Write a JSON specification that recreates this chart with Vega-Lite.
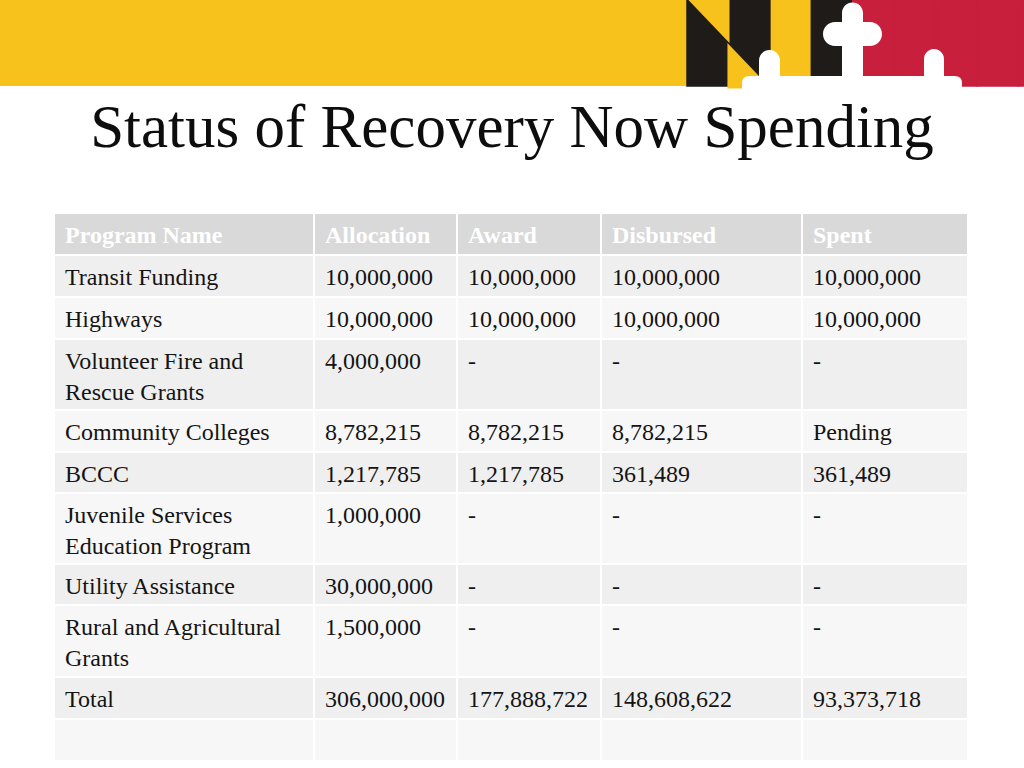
{
  "$schema": "https://vega.github.io/schema/vega-lite/v6.json",
  "width": 1024,
  "height": 768,
  "autosize": "none",
  "padding": 0,
  "background": "#ffffff",
  "config": {"view": {"stroke": null}},
  "datasets": {
    "table": [
      {"program": "Program Name", "allocation": "Allocation", "award": "Award", "disbursed": "Disbursed", "spent": "Spent"},
      {"program": "Transit Funding", "allocation": "10,000,000", "award": "10,000,000", "disbursed": "10,000,000", "spent": "10,000,000"},
      {"program": "Highways", "allocation": "10,000,000", "award": "10,000,000", "disbursed": "10,000,000", "spent": "10,000,000"},
      {"program": "Volunteer Fire and\nRescue Grants", "allocation": "4,000,000", "award": "-", "disbursed": "-", "spent": "-"},
      {"program": "Community Colleges", "allocation": "8,782,215", "award": "8,782,215", "disbursed": "8,782,215", "spent": "Pending"},
      {"program": "BCCC", "allocation": "1,217,785", "award": "1,217,785", "disbursed": "361,489", "spent": "361,489"},
      {"program": "Juvenile Services\nEducation Program", "allocation": "1,000,000", "award": "-", "disbursed": "-", "spent": "-"},
      {"program": "Utility Assistance", "allocation": "30,000,000", "award": "-", "disbursed": "-", "spent": "-"},
      {"program": "Rural and Agricultural\nGrants", "allocation": "1,500,000", "award": "-", "disbursed": "-", "spent": "-"},
      {"program": "Total", "allocation": "306,000,000", "award": "177,888,722", "disbursed": "148,608,622", "spent": "93,373,718"},
      {"program": "", "allocation": "", "award": "", "disbursed": "", "spent": ""}
    ],
    "calvert": [
      {"bar": "b1"}, {"bar": "b2"}, {"bar": "b4"},
      {"bar": "c1"}, {"bar": "c2"}, {"bar": "c3"}, {"bar": "c4"}, {"bar": "c5"}
    ],
    "bend": [
      {"bar": "b1", "piece": "upper"},
      {"bar": "b2", "piece": "lower"}
    ],
    "crossland": [
      {"bar": "c1", "piece": "cross bottony"}
    ]
  },
  "layer": [
    {
      "data": {"values": [{"piece": "gold field"}]},
      "mark": {"type": "rect", "fill": "#f8c21d"},
      "encoding": {
        "y": {"datum": "flag", "type": "nominal", "scale": {"type": "band", "domain": ["flag"], "range": [0, 86], "paddingInner": 0, "paddingOuter": 0}, "axis": null}
      }
    },
    {
      "layer": [
        {
          "data": {"name": "calvert"},
          "mark": {"type": "rect", "strokeWidth": 1.5},
          "encoding": {
            "x": {"field": "bar", "type": "nominal", "scale": {"type": "band", "domain": ["b1", "b2", "b3", "b4", "c1", "c2", "c3", "c4", "c5"], "range": [687, 1060], "paddingInner": 0, "paddingOuter": 0}, "axis": null},
            "y": {"datum": "flag", "type": "nominal", "scale": {"type": "band", "domain": ["flag"], "range": [0, 86], "paddingInner": 0, "paddingOuter": 0}, "axis": null},
            "fill": {"field": "bar", "type": "nominal", "scale": {"domain": ["b1", "b2", "b4", "c1", "c2", "c3", "c4", "c5"], "range": ["#1e1b18", "#1e1b18", "#1e1b18", "#c71f3c", "#c71f3c", "#c71f3c", "#c71f3c", "#c71f3c"]}, "legend": null},
            "stroke": {"field": "bar", "type": "nominal", "scale": {"domain": ["b1", "b2", "b4", "c1", "c2", "c3", "c4", "c5"], "range": ["#1e1b18", "#1e1b18", "#1e1b18", "#c71f3c", "#c71f3c", "#c71f3c", "#c71f3c", "#c71f3c"]}, "legend": null}
          }
        },
        {
          "data": {"name": "bend"},
          "mark": {"type": "point", "filled": true, "fill": "#f8c21d", "size": 1717, "opacity": 1, "strokeWidth": 0},
          "encoding": {
            "x": {"field": "bar", "type": "nominal", "scale": {"type": "band", "domain": ["b1", "b2", "b3", "b4", "c1", "c2", "c3", "c4", "c5"], "range": [687, 1060], "paddingInner": 0, "paddingOuter": 0}, "axis": null},
            "y": {"datum": "flag", "type": "nominal", "scale": {"type": "band", "domain": ["flag"], "range": [0, 86], "paddingInner": 0, "paddingOuter": 0}, "axis": null},
            "shape": {"field": "piece", "type": "nominal", "scale": {"domain": ["upper", "lower"], "range": ["M -1.05 -2.2 L 1.05 -2.2 L 1.05 0 Z", "M -1.05 0 L -1.05 2.2 L 1.05 2.2 Z"]}, "legend": null}
          }
        },
        {
          "data": {"name": "crossland"},
          "mark": {"type": "point", "filled": true, "fill": "#ffffff", "size": 4, "opacity": 1, "strokeWidth": 0},
          "encoding": {
            "x": {"field": "bar", "type": "nominal", "scale": {"type": "band", "domain": ["b1", "b2", "b3", "b4", "c1", "c2", "c3", "c4", "c5"], "range": [687, 1060], "paddingInner": 0, "paddingOuter": 0}, "axis": null},
            "y": {"datum": "flag", "type": "nominal", "scale": {"type": "band", "domain": ["flag"], "range": [0, 86], "paddingInner": 0, "paddingOuter": 0}, "axis": null},
            "shape": {"field": "piece", "type": "nominal", "scale": {"domain": ["cross bottony"], "range": ["M -124 33 L 81 33 Q 88.5 33 88.5 40 L 88.5 46 L -131.5 46 L -131.5 40 Q -131.5 33 -124 33 Z M -31.5 -30 A 10.5 10.5 0 0 1 -10.5 -30 L -10.5 46 L -31.5 46 Z M -38.5 -21 L -3.5 -21 A 12 12 0 0 1 -3.5 3 L -38.5 3 A 12 12 0 0 1 -38.5 -21 Z M -114.5 17.5 A 10.5 10.5 0 0 1 -93.5 17.5 L -93.5 46 L -114.5 46 Z M 50.5 16 A 10 10 0 0 1 70.5 16 L 70.5 46 L 50.5 46 Z"]}, "legend": null}
          }
        }
      ],
      "resolve": {"scale": {"shape": "independent"}}
    },
    {
      "layer": [
        {
          "data": {"name": "table"},
          "transform": [
            {"window": [{"op": "row_number", "as": "r"}, {"op": "count", "as": "r0"}], "frame": [null, -1]},
            {"fold": ["program", "allocation", "award", "disbursed", "spent"], "as": ["col", "val"]},
            {"window": [{"op": "row_number", "as": "c"}, {"op": "count", "as": "c0"}], "frame": [null, -1], "groupby": ["r"]}
          ],
          "layer": [
            {
              "mark": {"type": "rect", "x2Offset": -2, "y2Offset": -2},
              "encoding": {
                "x": {"field": "c0", "type": "quantitative", "scale": {"domain": [0, 1, 2, 3, 4, 5], "range": [55, 315, 458, 602, 803, 969], "nice": false, "zero": false}, "axis": null},
                "x2": {"field": "c"},
                "y": {"field": "r0", "type": "quantitative", "scale": {"domain": [-1, 0, 1, 2, 3, 4, 5, 6, 7, 8, 9, 10, 11], "range": [147, 214, 256, 298, 340, 411, 453, 494, 565, 606, 678, 720, 762], "nice": false, "zero": false}, "axis": null},
                "y2": {"field": "r"},
                "fill": {"condition": [{"test": "datum.r0 == 0", "value": "#d9d9d9"}, {"test": "datum.r0 % 2 == 1", "value": "#efefef"}], "value": "#f7f7f7"}
              }
            },
            {
              "transform": [{"filter": "datum.r0 == 0"}],
              "mark": {"type": "text", "align": "left", "baseline": "alphabetic", "dx": 10, "dy": 29, "font": "Liberation Serif", "fontSize": 24, "fontWeight": "bold", "color": "#ffffff"},
              "encoding": {
                "x": {"field": "c0", "type": "quantitative", "scale": {"domain": [0, 1, 2, 3, 4, 5], "range": [55, 315, 458, 602, 803, 969], "nice": false, "zero": false}, "axis": null},
                "y": {"field": "r0", "type": "quantitative", "scale": {"domain": [-1, 0, 1, 2, 3, 4, 5, 6, 7, 8, 9, 10, 11], "range": [147, 214, 256, 298, 340, 411, 453, 494, 565, 606, 678, 720, 762], "nice": false, "zero": false}, "axis": null},
                "text": {"field": "val"}
              }
            },
            {
              "transform": [{"filter": "datum.r0 > 0"}],
              "mark": {"type": "text", "align": "left", "baseline": "alphabetic", "dx": 10, "dy": 29, "font": "Liberation Serif", "fontSize": 24, "color": "#141414", "lineBreak": "\n", "lineHeight": 31},
              "encoding": {
                "x": {"field": "c0", "type": "quantitative", "scale": {"domain": [0, 1, 2, 3, 4, 5], "range": [55, 315, 458, 602, 803, 969], "nice": false, "zero": false}, "axis": null},
                "y": {"field": "r0", "type": "quantitative", "scale": {"domain": [-1, 0, 1, 2, 3, 4, 5, 6, 7, 8, 9, 10, 11], "range": [147, 214, 256, 298, 340, 411, 453, 494, 565, 606, 678, 720, 762], "nice": false, "zero": false}, "axis": null},
                "text": {"field": "val"}
              }
            }
          ]
        },
        {
          "data": {"values": [{"heading": "Status of Recovery Now Spending"}]},
          "mark": {"type": "text", "align": "center", "baseline": "alphabetic", "font": "Liberation Serif", "fontSize": 61, "color": "#0d0d0d"},
          "encoding": {
            "y": {"datum": -1, "type": "quantitative", "scale": {"domain": [-1, 0, 1, 2, 3, 4, 5, 6, 7, 8, 9, 10, 11], "range": [147, 214, 256, 298, 340, 411, 453, 494, 565, 606, 678, 720, 762], "nice": false, "zero": false}, "axis": null},
            "text": {"field": "heading"}
          }
        }
      ]
    }
  ],
  "resolve": {"scale": {"x": "independent", "y": "independent", "fill": "independent", "stroke": "independent", "shape": "independent"}}
}
